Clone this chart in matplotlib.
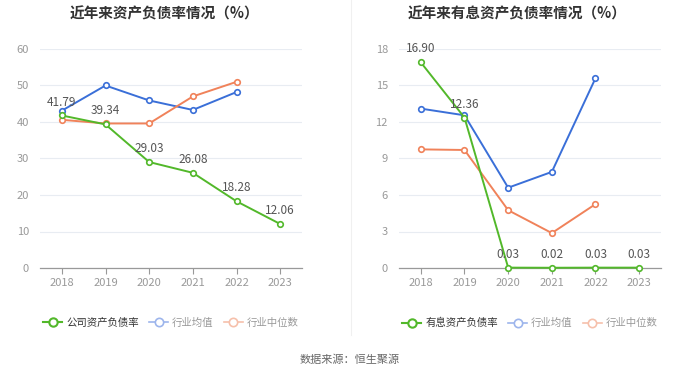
import matplotlib
matplotlib.use("Agg")
import matplotlib.pyplot as plt
from matplotlib.lines import Line2D

plt.rcParams['font.family'] = ['Noto Sans CJK SC', 'DejaVu Sans']

years = ["2018", "2019", "2020", "2021", "2022", "2023"]

# Left chart: asset-liability ratio
left_title = "近年来资产负债率情况（%）"
company_ratio = [41.79, 39.34, 29.03, 26.08, 18.28, 12.06]
industry_mean_left = [43.1, 50.0, 45.9, 43.3, 48.2]
industry_median_left = [40.6, 39.6, 39.6, 47.0, 51.0]
left_names = ["公司资产负债率", "行业均值", "行业中位数"]
left_ticks = [0, 10, 20, 30, 40, 50, 60]

# Right chart: interest-bearing asset-liability ratio
right_title = "近年来有息资产负债率情况（%）"
interest_ratio = [16.90, 12.36, 0.03, 0.02, 0.03, 0.03]
industry_mean_right = [13.1, 12.55, 6.6, 7.9, 15.6]
industry_median_right = [9.75, 9.7, 4.75, 2.87, 5.25]
right_names = ["有息资产负债率", "行业均值", "行业中位数"]
right_ticks = [0, 3, 6, 9, 12, 15, 18]

GREEN = "#52b82a"
BLUE = "#3a6fd8"
ORANGE = "#f0825a"
BLUE_L = "#9db5ec"
ORANGE_L = "#f6c0ab"

fig = plt.figure(figsize=(7, 3.78), dpi=100)

def draw(ax, main, mean, median, ticks, names):
    x = list(range(len(years)))
    kw = dict(marker='o', markersize=4, markerfacecolor='white', markeredgewidth=1.2, linewidth=1.4)
    ax.plot(x[:len(mean)], mean, color=BLUE, zorder=3, **kw)
    ax.plot(x[:len(median)], median, color=ORANGE, zorder=3, **kw)
    ax.plot(x, main, color=GREEN, zorder=4, clip_on=False, **kw)
    for xi, v in zip(x, main):
        ax.annotate(f"{v:.2f}", (xi, v), xytext=(0, 5), textcoords='offset points',
                    ha='center', va='bottom', fontsize=8.5, color='#555555', zorder=5)
    ax.set_xlim(-0.5, len(years) - 0.5)
    ax.set_ylim(ticks[0], ticks[-1])
    ax.set_yticks(ticks)
    ax.set_xticks(x)
    ax.set_xticklabels(years)
    ax.tick_params(axis='y', length=0, labelsize=8, labelcolor='#999999', pad=8)
    ax.tick_params(axis='x', length=4, color='#999999', labelsize=8, labelcolor='#999999', pad=3)
    ax.grid(axis='y', color='#e8ecf2', linewidth=0.8)
    ax.set_axisbelow(True)
    for s in ['top', 'right', 'left']:
        ax.spines[s].set_visible(False)
    ax.spines['bottom'].set_color('#999999')
    ax.spines['bottom'].set_linewidth(0.9)
    handles = [
        Line2D([], [], color=GREEN, marker='o', markerfacecolor='white', markersize=6, markeredgewidth=1.5, linewidth=1.5),
        Line2D([], [], color=BLUE_L, marker='o', markerfacecolor='white', markersize=6, markeredgewidth=1.2, linewidth=1.2),
        Line2D([], [], color=ORANGE_L, marker='o', markerfacecolor='white', markersize=6, markeredgewidth=1.2, linewidth=1.2),
    ]
    leg = ax.legend(handles, names, loc='upper center', bbox_to_anchor=(0.5, -0.185), ncol=3,
                    frameon=False, fontsize=7.5, handlelength=1.8, handletextpad=0.4, columnspacing=1.0)
    for t, c in zip(leg.get_texts(), ['#333333', '#999999', '#999999']):
        t.set_color(c)

ax1 = fig.add_axes([40/700, 1 - 268/378, 262/700, 219/378])
ax2 = fig.add_axes([399/700, 1 - 268/378, 262/700, 219/378])
draw(ax1, company_ratio, industry_mean_left, industry_median_left, left_ticks, left_names)
draw(ax2, interest_ratio, industry_mean_right, industry_median_right, right_ticks, right_names)

fig.text(165/700, 1 - 13/378, left_title, ha='center', va='center', fontsize=10.5, fontweight='bold', color='#333333')
fig.text(517/700, 1 - 13/378, right_title, ha='center', va='center', fontsize=10.5, fontweight='bold', color='#333333')

fig.add_artist(Line2D([351/700, 351/700], [1 - 335/378, 1.0], color='#f0f0f0', linewidth=0.8))
fig.text(350/700, 1 - 360/378, "数据来源：恒生聚源", ha='center', va='center', fontsize=8, color='#666666')

fig.savefig("out.png", dpi=100)
